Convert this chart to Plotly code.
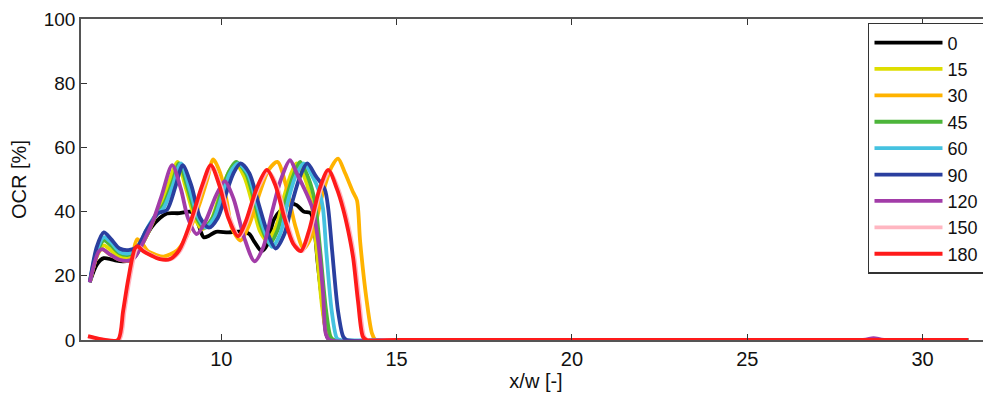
import plotly.graph_objects as go

# ---- data ----
labels = ["0", "15", "30", "45", "60", "90", "120", "150", "180"]
colors = ["#000000", "#dede00", "#ffb300", "#4cb53a", "#45c2e0", "#2a3f9f", "#a23ca8", "#ffb6c1", "#ff1a1a"]

x0 = [6.25, 6.45, 6.65, 6.9, 7.2, 7.5, 7.75, 8.0, 8.25, 8.45, 8.8, 9.1, 9.22, 9.35, 9.5, 9.65, 9.85, 10.2, 10.6, 10.8, 10.95, 11.15, 11.3, 11.5, 11.75, 11.95, 12.15, 12.35, 12.55, 12.65, 12.75, 12.9, 13.02, 13.12, 15.0, 31.3]
y0 = [18, 23.5, 25.5, 25, 24.5, 25.5, 30, 35, 38, 39.4, 39.5, 40, 39.5, 36, 32, 32.5, 33.7, 33.5, 33.8, 33, 30.5, 27.7, 29.5, 37.5, 41, 42.5, 42, 40, 39.5, 35, 24, 10, 1, 0, 0, 0]

x15 = [6.25, 6.45, 6.65, 6.85, 7.1, 7.35, 7.6, 7.85, 8.1, 8.35, 8.6, 8.75, 9.0, 9.25, 9.45, 9.7, 9.95, 10.2, 10.4, 10.65, 10.9, 11.1, 11.3, 11.55, 11.8, 12.0, 12.15, 12.4, 12.58, 12.72, 12.88, 13.02, 13.13, 15.0, 31.3]
y15 = [18, 26, 29.5, 28, 26, 25.5, 27.5, 32, 38, 44, 52, 55.5, 47, 38, 34.5, 37, 45, 52, 55, 51, 42, 34, 31, 35, 45, 52, 55, 50, 42, 28, 10, 1.5, 0, 0, 0]

x30 = [6.25, 6.5, 6.6, 6.85, 7.1, 7.4, 7.5, 7.6, 7.75, 7.9, 8.15, 8.35, 8.55, 8.75, 8.95, 9.2, 9.4, 9.6, 9.77, 9.97, 10.16, 10.3, 10.55, 10.8, 11.1, 11.35, 11.6, 11.85, 12.1, 12.35, 12.6, 12.9, 13.15, 13.33, 13.53, 13.76, 13.87, 13.96, 14.15, 14.3, 14.4, 15.0, 31.3]
y30 = [18, 27.5, 28.3, 26.5, 25, 24.8, 28, 31.4, 30, 27.7, 26.5, 26, 26.7, 28, 31, 37, 43, 50, 56.3, 52, 43, 35, 31, 36, 46, 53, 55.5, 48, 36, 28.5, 33, 46, 54, 56.5, 52, 46, 43.5, 30.7, 12, 2, 0, 0, 0]

x45 = [6.25, 6.45, 6.65, 6.85, 7.1, 7.35, 7.6, 7.85, 8.1, 8.35, 8.6, 8.8, 9.05, 9.3, 9.5, 9.75, 10.0, 10.2, 10.42, 10.7, 10.95, 11.15, 11.38, 11.6, 11.85, 12.05, 12.25, 12.5, 12.67, 12.82, 12.98, 13.12, 13.22, 15.0, 31.3]
y45 = [18, 27, 31, 29.5, 27, 26.5, 28, 33, 38.5, 42, 49, 55, 47, 38, 35, 38, 46, 52, 55.5, 52, 43, 35, 30, 34, 44, 51, 55.5, 50, 43, 28, 10, 1, 0, 0, 0]

x60 = [6.25, 6.45, 6.65, 6.85, 7.1, 7.35, 7.6, 7.85, 8.1, 8.35, 8.6, 8.85, 9.1, 9.35, 9.55, 9.8, 10.05, 10.25, 10.48, 10.75, 11.0, 11.2, 11.45, 11.68, 11.92, 12.12, 12.35, 12.6, 12.8, 12.9, 13.0, 13.15, 13.3, 13.4, 15.0, 31.3]
y60 = [18, 28, 32, 30.5, 27.5, 27, 28.5, 34, 38.5, 41, 47.5, 55, 47, 38, 35, 38, 46, 52, 55, 52, 43, 35, 29, 33, 44, 51, 55, 51, 46, 41, 27, 9, 0.5, 0, 0, 0]

x90 = [6.25, 6.45, 6.65, 6.85, 7.1, 7.35, 7.6, 7.85, 8.0, 8.2, 8.45, 8.7, 8.9, 9.15, 9.4, 9.65, 9.9, 10.15, 10.35, 10.55, 10.8, 11.05, 11.3, 11.55, 11.8, 12.05, 12.25, 12.45, 12.7, 12.95, 13.05, 13.16, 13.33, 13.48, 13.58, 15.0, 31.3]
y90 = [18, 29, 33.5, 31.5, 28.5, 28, 29, 34, 36.5, 39.5, 40.5, 48, 54.5, 48, 38, 35, 38, 46, 52, 55, 52, 43, 34, 28.5, 33, 44, 51, 55, 51, 47, 41, 28, 9, 1, 0, 0, 0]

x120 = [6.25, 6.5, 6.6, 6.85, 7.1, 7.4, 7.55, 7.8, 8.05, 8.3, 8.6, 8.85, 9.05, 9.3, 9.55, 9.85, 10.1, 10.35, 10.65, 10.95, 11.2, 11.45, 11.7, 11.96, 12.15, 12.33, 12.6, 12.76, 12.9, 12.98, 13.08, 15.0, 28.3, 28.6, 28.9, 31.3]
y120 = [18, 27.5, 28.3, 26.5, 25, 24.8, 26, 31, 37, 45, 54.5, 47, 38, 33, 37, 45, 49.5, 44, 32, 24.5, 29, 40, 50, 56, 52, 48, 41, 31, 15, 2, 0, 0, 0, 0.6, 0, 0]

x150 = [6.2, 6.35, 6.6, 7.09, 7.24, 7.38, 7.58, 7.66, 7.81, 8.29, 8.58, 8.84, 9.14, 9.49, 9.74, 9.99, 10.24, 10.52, 10.74, 11.04, 11.34, 11.59, 11.84, 12.09, 12.31, 12.54, 12.84, 13.09, 13.34, 13.51, 13.66, 13.8, 13.94, 14.08, 14.18, 15.0, 31.3]
y150 = [1.0, 0.6, 0.2, 0, 9, 18.5, 28.4, 29, 27.7, 25.2, 25.2, 28, 36, 48, 54, 48, 38, 32.3, 37, 47, 52.5, 48, 38, 30, 27.7, 34, 47, 52.5, 47, 41, 34, 25.6, 12, 1, 0, 0, 0]

x180 = [6.2, 6.35, 6.6, 7.05, 7.2, 7.34, 7.54, 7.62, 7.77, 8.25, 8.54, 8.8, 9.1, 9.45, 9.7, 9.95, 10.2, 10.48, 10.7, 11.0, 11.3, 11.55, 11.8, 12.05, 12.27, 12.5, 12.8, 13.05, 13.3, 13.47, 13.62, 13.76, 13.9, 14.04, 14.15, 15.0, 31.3]
y180 = [1.2, 0.8, 0.2, 0, 9, 18.5, 28.6, 29.2, 27.7, 25.2, 25.2, 28, 36, 48, 54.5, 48, 38, 32.3, 37, 47, 53, 48, 38, 30, 27.7, 34, 47, 53, 47, 41, 34, 25.6, 12, 1, 0, 0, 0]

xs = [x0, x15, x30, x45, x60, x90, x120, x150, x180]
ys = [y0, y15, y30, y45, y60, y90, y120, y150, y180]

x_ticks = [10, 15, 20, 25, 30]
y_ticks = [0, 20, 40, 60, 80, 100]

FONT = "Liberation Sans, Arial, Helvetica, sans-serif"
TXT = "#111111"
AX = "#555555"

fig = go.Figure()
for lab, col, xv, yv in zip(labels, colors, xs, ys):
    fig.add_trace(go.Scatter(
        x=xv, y=yv, mode="lines", name=lab,
        line=dict(color=col, width=3.8, shape="spline", smoothing=0.8),
    ))

# the page body has an 8px margin, so the figure is sized/offset to compensate
fig.update_layout(
    width=983, height=391,
    margin=dict(l=73, r=0, t=11, b=59),
    paper_bgcolor="white", plot_bgcolor="white",
    font=dict(family=FONT, size=20, color=TXT),
    showlegend=True,
    legend=dict(
        x=0.9934, y=0.988, xanchor="right", yanchor="top",
        bgcolor="white", bordercolor="#333333", borderwidth=1.5,
        font=dict(family=FONT, size=18, color=TXT),
        tracegroupgap=0, itemwidth=68,
    ),
)
fig.update_xaxes(
    range=[6, 31.95], tickmode="array", tickvals=x_ticks,
    ticks="inside", ticklen=6, tickwidth=1.2, tickcolor="#333333",
    showline=True, linecolor=AX, linewidth=1.5, mirror="ticks",
    showgrid=False, zeroline=False, automargin=False,
    title=dict(text="x/w [-]", font=dict(family=FONT, size=20, color=TXT), standoff=4),
    tickfont=dict(family=FONT, size=20, color=TXT),
)
fig.update_yaxes(
    range=[0, 100], tickmode="array", tickvals=y_ticks,
    ticks="inside", ticklen=6, tickwidth=1.2, tickcolor="#333333",
    showline=True, linecolor=AX, linewidth=1.5, mirror="ticks",
    showgrid=False, zeroline=False, automargin=False,
    title=dict(text="OCR [%]", font=dict(family=FONT, size=20, color=TXT), standoff=14),
    tickfont=dict(family=FONT, size=19, color=TXT),
    ticklabelstandoff=0, ticklabeloverflow="allow",
)

fig.write_html("out.html")
